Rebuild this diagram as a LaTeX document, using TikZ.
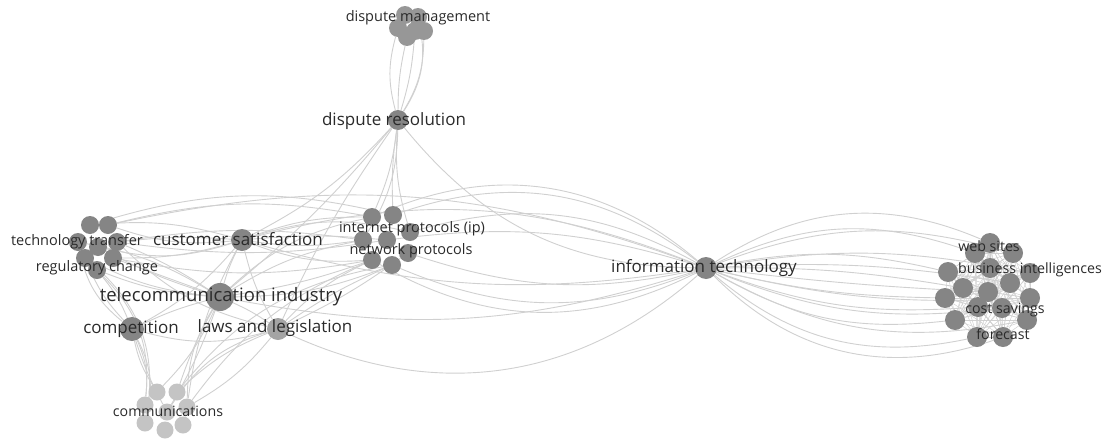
\documentclass[tikz,border=0pt]{standalone}
\usepackage{fontspec}
\setmainfont{Open Sans}
\usetikzlibrary{backgrounds}
\definecolor{dotgray}{HTML}{858585}
\definecolor{dotlight}{HTML}{C4C4C4}
\definecolor{linkgray}{HTML}{D0D0D0}
\definecolor{txtgray}{HTML}{2A2A2A}

\begin{document}
\begin{tikzpicture}[x=1pt,y=1pt]
\tikzset{noeud/.style={circle, fill=dotgray, inner sep=0pt, minimum size=18pt},
  petit/.style={noeud, minimum size=18pt},
  clair/.style={petit, minimum size=17pt, fill=dotlight},
  lien/.style={draw=linkgray, line width=0.9pt},
  etiq/.style={text=txtgray, inner sep=0pt, font=\fontsize{#1}{#1}\selectfont}}
\useasboundingbox (0,0) rectangle (1107,-439);
% main terms
\node[noeud, minimum size=20pt] (DR) at (398,-120) {};
\node[noeud, minimum size=22pt] (CS) at (242,-240) {};
\node[noeud, minimum size=28pt] (TI) at (220,-297) {};
\node[noeud, minimum size=24pt] (CO) at (132,-329) {};
\node[noeud, minimum size=22pt, fill=dotgray!75] (LL) at (278,-329) {};
\node[noeud, minimum size=22pt] (IT) at (706,-268) {};
% clusters
\foreach \x/\y [count=\i] in {405/15, 418/17, 398/28, 407/37, 415/31, 424/31}
  \node[petit, fill=dotgray!85] (DM\i) at (\x,-\y) {};
\foreach \x/\y [count=\i] in {90/225, 108/225, 78/242, 98/247, 117/242, 85/258, 113/258, 97/270}
  \node[petit] (TT\i) at (\x,-\y) {};
\foreach \x/\y [count=\i] in {372/217, 393/215, 363/240, 387/240, 410/232, 372/260, 392/265, 408/253}
  \node[petit] (IP\i) at (\x,-\y) {};
\foreach \x/\y [count=\i] in {157/392, 177/392, 145/405, 167/412, 187/407, 145/423, 165/430, 183/425}
  \node[clair] (CM\i) at (\x,-\y) {};
\foreach \x/\y [count=\i] in {990/243, 975/253, 1013/253, 948/272, 1030/273, 963/288, 988/292, 1010/283,
    945/298, 1030/298, 978/307, 1002/308, 955/320, 1027/320, 977/337, 1003/337, 990/268}
  \node[petit, minimum size=20pt] (BI\i) at (\x,-\y) {};
% links
\begin{scope}[on background layer]
\foreach \a/\b/\c in {DR/DM3/15, DR/DM4/6, DR/DM5/-6, DR/DM6/-15, DR/DM2/-22,
    DR/IP1/8, DR/IP2/-5, DR/IP5/-10, DR/IP3/15, DR/CS/10, DR/TI/5, DR/LL/-5, DR/IT/-25,
    IP5/IT/22, IP2/IT/28, IP8/IT/-15, IP7/IT/-22, IP4/IT/12, IP6/IT/-28, IP1/IT/32,
    TT2/IP1/12, TT5/IP3/8, TT1/IP2/15, TT5/IP4/-8, TT7/IP6/-10,
    CS/IP1/10, CS/IP3/-8, CS/IP4/5, CS/IP6/-12, CS/IP5/15,
    TI/IP3/10, TI/IP6/-5, TI/IP7/-10, TI/IP1/15,
    LL/IP6/10, LL/IP7/5, LL/IP8/-5, CM5/IP6/15, CM2/IP7/20,
    TI/TT3/-10, TI/TT4/5, TI/TT5/-5, TI/TT6/10, TI/TT7/0, TI/TT8/8,
    TI/CS/5, TI/CO/-5, TI/LL/5, TI/CM1/10, TI/CM2/-5, TI/CM5/-15, TI/CM4/5,
    CS/TT1/-10, CS/TT2/12, CS/TT5/-5, CS/TT7/8, CS/TT4/15, CS/LL/-8, CS/CO/10, CS/CM5/-10,
    CO/TT6/10, CO/TT8/-8, CO/TT3/20, CO/CM1/-10, CO/CM3/15, CO/CM4/-5, CO/LL/-15, CO/CM6/20,
    LL/CM2/-10, LL/CM5/10, LL/CM4/-20, LL/TT5/15, TT8/CM3/25, TT6/CM6/30,
    CS/IT/-12, TI/IT/-14, LL/IT/-33, CS/IT/18, TT2/IT/16,
    IT/BI1/28, IT/BI2/22, IT/BI3/18, IT/BI4/12, IT/BI5/10, IT/BI6/5, IT/BI7/-2, IT/BI8/6,
    IT/BI9/-6, IT/BI10/-8, IT/BI11/-12, IT/BI12/-14, IT/BI13/-18, IT/BI14/-20, IT/BI15/-26, IT/BI16/-32}
  \draw[lien] (\a) to[bend left=\c] (\b);
\foreach \a in {1,...,17}
  \foreach \b in {1,...,17}
    {\ifnum\a<\b \draw[lien, line width=0.5pt] (BI\a) -- (BI\b);\fi}
\end{scope}
% labels
\node[etiq=14.5] (lDM) at (418,-18) {dispute management};
\node[etiq=17] (lDR) at (394,-121) {dispute resolution};
\node[etiq=14.5] (lTT) at (77,-242) {technology transfer};
\node[etiq=14.5] (lRC) at (97,-268) {regulatory change};
\node[etiq=17] (lCS) at (238,-239) {customer satisfaction};
\node[etiq=14.5] (lIP) at (412,-229) {internet protocols (ip)};
\node[etiq=14.5] (lNP) at (411,-251) {network protocols};
\node[etiq=18.5] (lTI) at (221,-297) {telecommunication industry};
\node[etiq=17] (lCO) at (131,-329) {competition};
\node[etiq=17] (lLL) at (275,-328) {laws and legislation};
\node[etiq=14.2] (lCM) at (168,-411) {communications};
\node[etiq=17] (lIT) at (704,-268) {information technology};
\node[etiq=14.2] (lWS) at (989,-246) {web sites};
\node[etiq=14.2] (lBI) at (1030,-270) {business intelligences};
\node[etiq=14.2] (lCV) at (1005,-310) {cost savings};
\node[etiq=14.2] (lFC) at (1003,-334) {forecast};
\end{tikzpicture}
\end{document}
